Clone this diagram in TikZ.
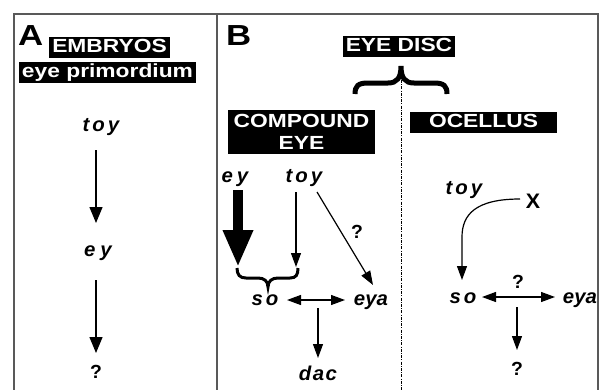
\documentclass[tikz,border=0pt]{standalone}
\usepackage{fontspec}
\setmainfont{Liberation Sans}
\newfontfamily\boxf{Liberation Sans}[FakeStretch=1.2]
\newfontfamily\genef{Liberation Sans}[FakeStretch=1.02]
\usetikzlibrary{arrows.meta}
\tikzset{
  lbl/.style={font=\boxf\bfseries\fontsize{19}{22}\selectfont, fill=black, text=white,
    inner xsep=3pt, inner ysep=1.5pt, text height=14pt, text depth=4pt},
  gene/.style={font=\genef\bfseries\itshape\fontsize{20}{22}\selectfont, inner sep=0pt, anchor=base},
  qm/.style={font=\genef\bfseries\fontsize{19}{20}\selectfont, inner sep=0pt, anchor=base},
  panel/.style={font=\boxf\bfseries\fontsize{29}{30}\selectfont, inner sep=0pt, anchor=base west},
  arr/.style={line width=1.2pt, -{Triangle[length=14pt,width=10pt]}},
  arrA/.style={line width=1.3pt, -{Triangle[length=16pt,width=13pt]}},
  darr/.style={line width=1.2pt, {Triangle[length=14pt,width=10pt]}-{Triangle[length=14pt,width=10pt]}},
  frame/.style={draw=black!65, line width=1.6pt},
  dashdot/.style={line width=1pt, dash pattern=on 3pt off 1.2pt on 1pt off 1.2pt},
}
\newcommand\gs{\kern3pt}
\begin{document}
\begin{tikzpicture}[x=1pt,y=-1pt]
\useasboundingbox (0,0) rectangle (600,389);
\clip (0,0) rectangle (600,389);
\fill[white] (0,0) rectangle (600,389);
% frame
\draw[frame] (14,14) rectangle (598,420);
\draw[frame] (217,14) -- (217,420);

% Panel A
\node[panel] (A) at (18,45) {A};
\node[lbl] (embryos) at (109.5,47) {EMBRYOS};
\node[lbl] (primord) at (107.5,72.5) {eye primordium};
\node[gene] (toyA) at (101,131) {t\gs o\gs y};
\node[gene] (eyA) at (98,256) {e\kern5pt y};
\node[qm] (qA) at (96,378) {?};
\draw[arrA] ([shift={(-5,19)}]toyA.base) -- ([shift={(-2,-33)}]eyA.base);
\draw[arrA] ([shift={(-2,24)}]eyA.base) -- ([shift={(0,-25)}]qA.base);

% Panel B
\node[panel] (B) at (226,45) {B};
\node[lbl] (disc) at (399,46) {EYE DISC};
\draw[line width=5pt] (355,94) .. controls (355,86) and (358,83) .. (368,83) -- (388,83)
  .. controls (397,83) and (401,78) .. (401,66)
  .. controls (401,78) and (405,83) .. (414,83) -- (434,83)
  .. controls (444,83) and (447,86) .. (447,94);
\draw[dashdot] (401,80) -- (401,392);
\node[lbl, text height=, text depth=, align=center, minimum width=147pt, minimum height=44pt,
  inner ysep=0pt, font=\boxf\bfseries\fontsize{19}{22}\selectfont] (ce) at (301.5,132) {COMPOUND\\EYE};
\node[lbl, minimum width=147pt] (oc) at (483.5,122.5) {OCELLUS};

% compound eye
\node[gene] (eyB) at (235,182) {e\kern4pt y};
\node[gene] (toyB) at (304,182) {t\gs o\gs y};
\node[gene] (soB) at (265,305) {s\kern3pt o};
\node[gene] (eyaB) at (371,305) {eya};
\node[gene] (dacB) at (318,380) {d\kern1.5pt a\kern1.5pt c};
\node[qm] (qB) at (357,238) {?};
\coordinate (brL) at (238,267);
\coordinate (brR) at (296,267);
\draw[line width=10pt, -{Triangle[length=37pt,width=28pt]}] ([shift={(3,8)}]eyB.base) -- (brL);
\draw[arr] ([shift={(-8,10)}]toyB.base) -- (brR);
\draw[arr] ([shift={(13,10)}]toyB.base) -- ([shift={(2,-20)}]eyaB.base);
\draw[line width=3pt] (237,268) .. controls (237,275) and (240,278) .. (246,278) -- (258,278)
  .. controls (264,278) and (268,281) .. (268,287)
  .. controls (268,281) and (272,278) .. (278,278) -- (290,278)
  .. controls (296,278) and (298,275) .. (298,268);
\draw[darr] ([shift={(22,-5)}]soB.base) -- ([shift={(-26,-5)}]eyaB.base);
\draw[arr] ([shift={(53,3)}]soB.base) -- ([shift={(0,-22)}]dacB.base);

% ocellus
\node[gene] (toyO) at (464,194) {t\gs o\gs y};
\node[qm, font=\genef\bfseries\fontsize{21}{22}\selectfont] (X) at (533,208) {X};
\node[gene] (soO) at (463,303) {s\kern3pt o};
\node[gene] (eyaO) at (580,303) {eya};
\node[qm] (qO1) at (518,288) {?};
\node[qm] (qO2) at (517,375) {?};
\draw[arr] ([shift={(-13,-9)}]X.base) .. controls +(-45,0) and +(0,-22) .. ++(-58,38)
  -- ([shift={(-1,-23)}]soO.base);
\draw[darr] ([shift={(19,-6)}]soO.base) -- ([shift={(-25,-6)}]eyaO.base);
\draw[arr] ([shift={(54,4)}]soO.base) -- ([shift={(0,-25)}]qO2.base);
\end{tikzpicture}
\end{document}
